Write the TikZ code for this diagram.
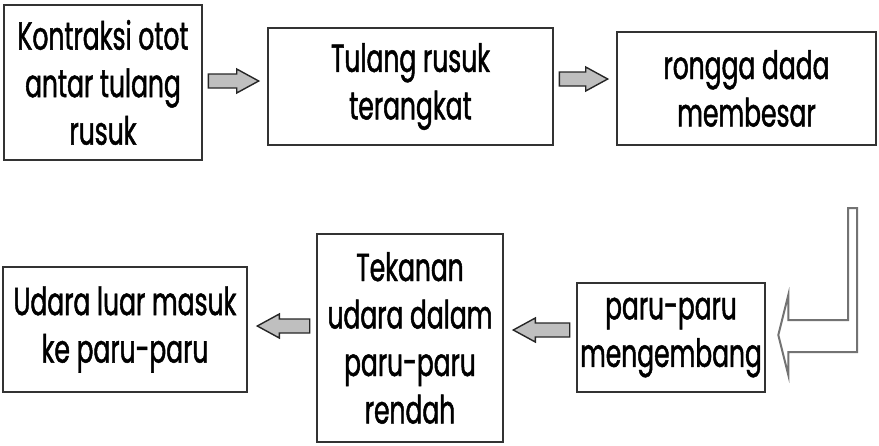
\documentclass[tikz,border=0pt]{standalone}
\usepackage{fontspec}
\setmainfont[FakeStretch=0.64,FakeBold=1.2]{Poppins}
\usetikzlibrary{calc}
\begin{document}
\begin{tikzpicture}[x=1pt,y=-1pt,
  box/.style={draw=black!80, line width=2.6pt, fill=white, align=center,
    inner sep=0pt, font=\fontsize{39}{47.5}\selectfont},
  flowarrow/.style={draw=black!85, line width=1.4pt, fill=black!25, line join=miter},
  bigarrow/.style={draw=black!55, line width=2pt, fill=white, line join=miter}]
  \useasboundingbox (0,0) rectangle (879,445);

  % top row
  \node[box, minimum width=198pt, minimum height=155pt] (kontraksi) at (103,82.5)
    {Kontraksi otot\\antar tulang\\rusuk};
  \node[box, minimum width=285pt, minimum height=117pt] (tulang) at (410.5,86.5)
    {Tulang rusuk\\terangkat};
  \node[box, minimum width=259pt, minimum height=113pt] (rongga) at (746.5,88.5)
    {rongga dada\\membesar};

  % bottom row
  \node[box, minimum width=244pt, minimum height=125pt] (udara) at (125,329.5)
    {Udara luar masuk\\ke paru-paru};
  \node[box, minimum width=186pt, minimum height=208pt] (tekanan) at (410,338)
    {Tekanan\\udara dalam\\paru-paru\\rendah};
  \node[box, minimum width=188pt, minimum height=109pt] (paru) at (671,337.5)
    {paru-paru\\mengembang};

  % small block arrows pointing right
  \foreach \a/\b/\y in {kontraksi/tulang/81, tulang/rongga/79} {
    \coordinate (t) at ($(\a.east |- 0,\y)+(5,0)$);
    \coordinate (h) at ($(\b.west |- 0,\y)+(-8,0)$);
    \draw[flowarrow] (t) ++(0,-7) -- ($(h)+(-22,-7)$) -- ($(h)+(-22,-12)$) -- (h)
      -- ($(h)+(-22,12)$) -- ($(h)+(-22,7)$) -- ($(t)+(0,7)$) -- cycle;
  }
  % small block arrows pointing left
  \foreach \a/\b/\y in {paru/tekanan/330, tekanan/udara/326} {
    \coordinate (t) at ($(\a.west |- 0,\y)+(-6,0)$);
    \coordinate (h) at ($(\b.east |- 0,\y)+(9,0)$);
    \draw[flowarrow] (t) ++(0,-7) -- ($(h)+(22,-7)$) -- ($(h)+(22,-12)$) -- (h)
      -- ($(h)+(22,12)$) -- ($(h)+(22,7)$) -- ($(t)+(0,7)$) -- cycle;
  }

  % bent arrow from the top row down into the lungs box
  \coordinate (bend) at ($(paru.east)+(12,0)$);
  \draw[bigarrow] (848,208) -- (857,208) -- (857,352) -- ($(bend |- 0,352)+(10,0)$)
    -- ($(bend |- 0,375)+(10,0)$) -- ($(bend |- 0,335)$) -- ($(bend |- 0,295)+(10,0)$)
    -- ($(bend |- 0,320)+(10,0)$) -- (848,320) -- cycle;
\end{tikzpicture}
\end{document}
